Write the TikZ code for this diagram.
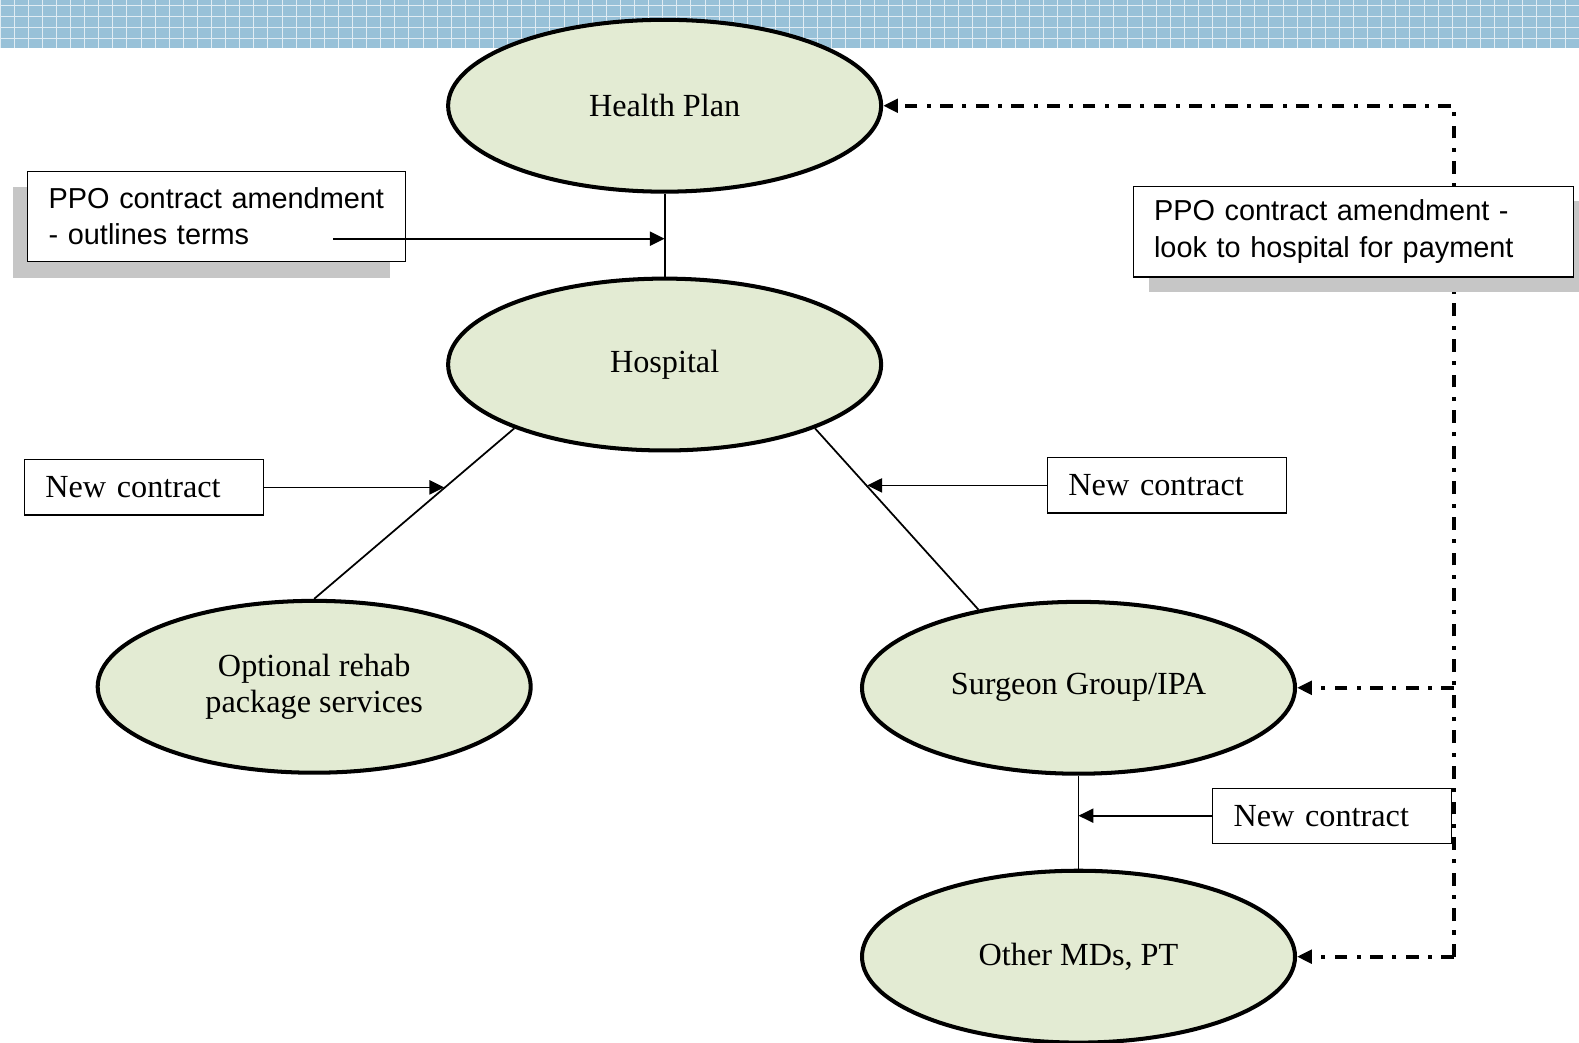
\documentclass[tikz,border=0pt]{standalone}
\usepackage{fontspec}
\setmainfont{Liberation Serif}
\newfontfamily\arialfont{Liberation Sans}
\usetikzlibrary{shapes.geometric,arrows.meta,shadows,calc}
\definecolor{ovalfill}{RGB}{227,235,211}
\definecolor{bandblue}{RGB}{152,193,216}
\tikzset{
  party/.style={ellipse, draw, line width=3pt, fill=ovalfill,
    minimum width=322.5pt, minimum height=128pt, align=center,
    font=\fontsize{24}{26.5}\selectfont},
  note/.style={draw, line width=0.9pt, fill=white, align=left,
    inner xsep=15.5pt, minimum height=67.5pt,
    font=\arialfont\fontsize{21.5}{27}\selectfont},
  newbox/.style={draw, line width=0.9pt, fill=white, align=left,
    inner xsep=15.5pt, text width=147pt, minimum height=41pt,
    font=\fontsize{24}{26}\selectfont},
  arr/.style={line width=1.3pt, -{Triangle[length=11pt,width=10.5pt]}},
  rail/.style={line width=3pt, dash pattern=on 9.5pt off 7pt on 3pt off 7pt,
    -{Triangle[length=11pt,width=10pt]}},
  link/.style={line width=1.3pt}
}
\begin{document}
\begin{tikzpicture}[x=0.75pt,y=-0.75pt]
  \useasboundingbox (0,0) rectangle (1568,1035);
  % patterned band along the top
  \fill[bandblue] (0,0) rectangle (1568,48);
  \foreach \x in {0,14,...,1568}
    \draw[white!70!bandblue, line width=0.6pt] (\x,0) -- (\x,48);
  \foreach \y in {5,16,27,38}
    \draw[white!70!bandblue, line width=0.6pt] (0,\y) -- (1568,\y);

  % the parties
  \node[party] (hp)    at (660,105)  {Health Plan};
  \node[party] (hosp)  at (660,362)  {Hospital};
  \node[party] (rehab) at (312,682)  {Optional rehab\\package services};
  \node[party] (surg)  at (1071,683) {Surgeon Group/IPA};
  \node[party] (other) at (1071,950) {Other MDs, PT};

  % contract links
  \draw[link] (hp) -- (hosp);
  \draw[link] (hosp.203) -- (rehab.north);
  \draw[link] (hosp.337) -- (surg.142);
  \draw[link] (surg) -- (other);

  % payment rail on the right
  \coordinate (railx) at (1444,0);
  \draw[rail] (railx |- other.east) -- (railx |- hp.east) -- (hp.east);
  \draw[rail] (railx |- surg.east) -- (surg.east);
  \draw[rail] (railx |- other.east) -- (other.east);

  % labels
  \node[note, text width=250pt,
    drop shadow={shadow xshift=-11.25pt, shadow yshift=-12pt, fill=gray!45, opacity=1}]
    (amendl) at (215,215) {PPO contract amendment\\- outlines terms};
  \node[note, text width=297pt,
    drop shadow={shadow xshift=12pt, shadow yshift=-11.25pt, fill=gray!45, opacity=1}]
    (amendr) at (1344,230) {PPO contract amendment -\\look to hospital for payment};
  \node[newbox] (newl) at (143,484) {New contract};
  \node[newbox] (newr) at (1159,482) {New contract};
  \node[newbox] (newb) at (1323,810) {New contract};

  % arrows onto the links
  \coordinate (amendstart) at (331,237);
  \draw[arr] (amendstart) -- (hp.south |- amendstart);
  \coordinate (tipl) at ($(hosp.203)!0.35!(rehab.north)$);
  \draw[arr] (newl.east) -- (newl.east -| tipl);
  \coordinate (tipr) at ($(hosp.337)!0.32!(surg.142)$);
  \draw[arr] (newr.west) -- (newr.west -| tipr);
  \draw[arr] (newb.west) -- (newb.west -| surg.south);
\end{tikzpicture}
\end{document}
